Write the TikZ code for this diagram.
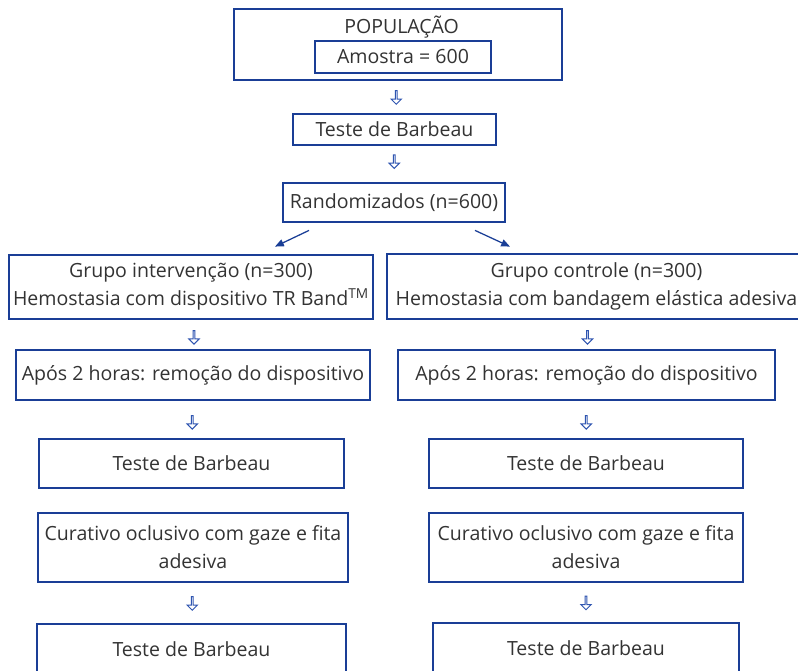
\documentclass[tikz,border=0pt]{standalone}
\usepackage{fontspec}
\setmainfont{Open Sans}
\usepackage{tikz}
\usetikzlibrary{positioning, arrows.meta, calc, shapes.arrows}
\definecolor{boxblue}{HTML}{1A3E96}
\definecolor{arrblue}{HTML}{2F55B0}
\definecolor{txtgray}{HTML}{333333}

\begin{document}
\begin{tikzpicture}[
  box/.style={draw=boxblue, line width=2pt, inner sep=0pt, align=center,
              text=txtgray, font=\fontsize{13.9}{20}\selectfont},
  downarr/.style={shape=single arrow, shape border rotate=270, draw=arrblue,
                  line width=0.7pt, inner sep=0pt, minimum height=0.34cm,
                  minimum width=0.26cm, single arrow head extend=0.065cm,
                  single arrow head indent=0pt},
  diag/.style={-{Triangle[length=2.2mm,width=1.8mm]}, draw=boxblue, line width=0.9pt},
]
  \useasboundingbox (0,0) rectangle (19.95,-16.775);

  % Top block
  \node[box, minimum width=8.2cm, minimum height=1.775cm] (pop) at (9.95,-1.1125) {};
  \node[text=txtgray, font=\fontsize{13.9}{20}\selectfont] (poptxt) at (10.04,-0.675) {POPULAÇÃO};
  \node[box, minimum width=4.4cm, minimum height=0.8cm] (amo) at (10.075,-1.425) {Amostra = 600};

  \node[box, minimum width=5.075cm, minimum height=0.775cm] (barb0) at (9.8625,-3.2375) {Teste de Barbeau};
  \node[box, minimum width=5.55cm, minimum height=0.975cm] (rand) at (9.85,-5.0625) {Randomizados (n=600)};

  % Two groups
  \node[box, minimum width=9.1cm, minimum height=1.6cm] (grpL) at (4.775,-7.175)
    {Grupo intervenção (n=300)\\Hemostasia com dispositivo TR Band\textsuperscript{TM}};
  \node[box, minimum width=10.475cm, minimum height=1.625cm] (grpR) at (14.9125,-7.1625)
    {Grupo controle (n=300)\\Hemostasia com bandagem elástica adesiva};

  \node[box, minimum width=8.85cm, minimum height=1.25cm] (aposL) at (4.825,-9.375)
    {Após 2 horas: remoção do dispositivo};
  \node[box, minimum width=9.425cm, minimum height=1.25cm] (aposR) at (14.6625,-9.375)
    {Após 2 horas: remoção do dispositivo};

  \node[box, minimum width=7.625cm, minimum height=1.225cm] (barbL) at (4.7875,-11.5875) {Teste de Barbeau};
  \node[box, minimum width=7.85cm, minimum height=1.225cm] (barbR) at (14.65,-11.5875) {Teste de Barbeau};

  \node[box, minimum width=7.75cm, minimum height=1.725cm] (curL) at (4.825,-13.6875)
    {Curativo oclusivo com gaze e fita\\adesiva};
  \node[box, minimum width=7.85cm, minimum height=1.725cm] (curR) at (14.65,-13.6875)
    {Curativo oclusivo com gaze e fita\\adesiva};

  \node[box, minimum width=7.725cm, minimum height=1.25cm] (barbtwoL) at (4.7875,-16.225) {Teste de Barbeau};
  \node[box, minimum width=7.65cm, minimum height=1.25cm] (barbtwoR) at (14.65,-16.2) {Teste de Barbeau};

  % Small hollow arrows
  \node[downarr] (a1) at ($(pop.south)!0.5!(barb0.north)$) {};
  \node[downarr] (a2) at ($(barb0.south)!0.5!(rand.north)+(0,0.07)$) {};
  \node[downarr] (a3) at ($(grpL.south)!0.5!(aposL.north)+(0.05,-0.06)$) {};
  \node[downarr] (a4) at ($(grpR.south)!0.5!(aposR.north)+(-0.1,-0.06)$) {};
  \node[downarr] (a5) at ($(aposL.south)!0.5!(barbL.north)+(0,-0.06)$) {};
  \node[downarr] (a6) at ($(aposR.south)!0.5!(barbR.north)+(0,-0.06)$) {};
  \node[downarr] (a7) at ($(curL.south)!0.5!(barbtwoL.north)$) {};
  \node[downarr] (a8) at ($(curR.south)!0.5!(barbtwoR.north)$) {};

  % Split
  \draw[diag] ([xshift=-2.125cm,yshift=-0.175cm]rand.south) -- ([xshift=2.1cm,yshift=0.175cm]grpL.north);
  \draw[diag] ([xshift=2.025cm,yshift=-0.175cm]rand.south) -- ([xshift=-2.1625cm,yshift=0.15cm]grpR.north);
\end{tikzpicture}
\end{document}
